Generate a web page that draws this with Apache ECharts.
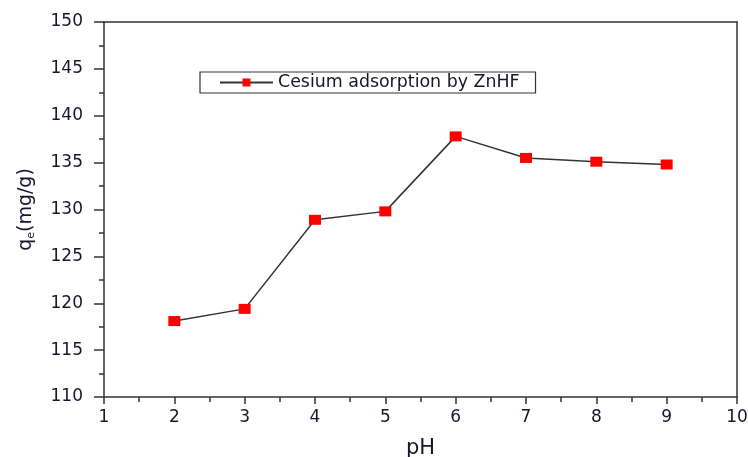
<!DOCTYPE html>
<html>
<head>
<meta charset="utf-8">
<script src="https://cdn.jsdelivr.net/npm/echarts@6/dist/echarts.min.js"></script>
<style>
html,body{margin:0;padding:0;background:#fff;}
#chart{width:748px;height:457px;}
</style>
</head>
<body>
<div id="chart"></div>
<script>
// Cesium uptake as a function of solution pH
const phValues = [2, 3, 4, 5, 6, 7, 8, 9];
const qeValues = [118.1, 119.4, 128.9, 129.8, 137.8, 135.5, 135.1, 134.8];
const seriesName = 'Cesium adsorption by ZnHF';

const points = phValues.map((x, i) => [x, qeValues[i]]);
const axisColor = '#333';
const fontFamily = '"DejaVu Sans", Arial, sans-serif';
const labelFont = { color: '#161630', fontFamily: fontFamily, fontSize: 17 };

const chart = echarts.init(document.getElementById('chart'));
chart.setOption({
  animation: false,
  backgroundColor: '#fff',
  grid: { left: 104, right: 11, top: 22, bottom: 60, containLabel: false, outerBoundsMode: 'none' },
  legend: {
    left: 200, top: 72,
    padding: [2, 16, 2, 19],
    itemWidth: 53, itemHeight: 10, itemGap: 6,
    borderColor: '#333', borderWidth: 1.2,
    textStyle: { color: '#161630', fontFamily: fontFamily, fontSize: 17.4 },
    data: [{ name: seriesName }]
  },
  xAxis: [{
    type: 'value', min: 1, max: 10, interval: 1,
    name: 'pH', nameLocation: 'middle', nameGap: 41,
    nameTextStyle: { color: '#161630', fontFamily: fontFamily, fontSize: 21 },
    axisLine: { show: true, onZero: false, lineStyle: { color: axisColor, width: 1.5 } },
    axisTick: { show: true, inside: false, length: 7, lineStyle: { color: axisColor, width: 1.5 } },
    minorTick: { show: true, splitNumber: 2, length: 5, lineStyle: { color: axisColor, width: 1.5 } },
    axisLabel: Object.assign({ margin: 12 }, labelFont),
    splitLine: { show: false }
  }, {
    type: 'value', min: 1, max: 10, position: 'top',
    axisLine: { show: true, onZero: false, lineStyle: { color: axisColor, width: 1.5 } },
    axisTick: { show: false }, axisLabel: { show: false }, splitLine: { show: false }
  }],
  yAxis: [{
    type: 'value', min: 110, max: 150, interval: 5,
    name: '{a|q}{b|e}{a|(mg/g)}', nameLocation: 'middle', nameGap: 67, nameRotate: 90,
    nameTextStyle: {
      rich: {
        a: { color: '#161630', fontFamily: fontFamily, fontSize: 19 },
        b: { color: '#161630', fontFamily: fontFamily, fontSize: 11, padding: [10, 0, 0, 0] }
      }
    },
    axisLine: { show: true, onZero: false, lineStyle: { color: axisColor, width: 1.5 } },
    axisTick: { show: true, inside: false, length: 10, lineStyle: { color: axisColor, width: 1.5 } },
    minorTick: { show: true, splitNumber: 2, length: 5, lineStyle: { color: axisColor, width: 1.5 } },
    axisLabel: Object.assign({ margin: 21 }, labelFont),
    splitLine: { show: false }
  }, {
    type: 'value', min: 110, max: 150, position: 'right',
    axisLine: { show: true, onZero: false, lineStyle: { color: axisColor, width: 1.5 } },
    axisTick: { show: false }, axisLabel: { show: false }, splitLine: { show: false }
  }],
  series: [{
    name: seriesName,
    type: 'line',
    data: points,
    symbol: 'rect',
    symbolSize: [12, 10],
    itemStyle: { color: '#ff0000' },
    lineStyle: { color: '#333', width: 1.5 },
    z: 3
  }]
});
</script>
</body>
</html>
